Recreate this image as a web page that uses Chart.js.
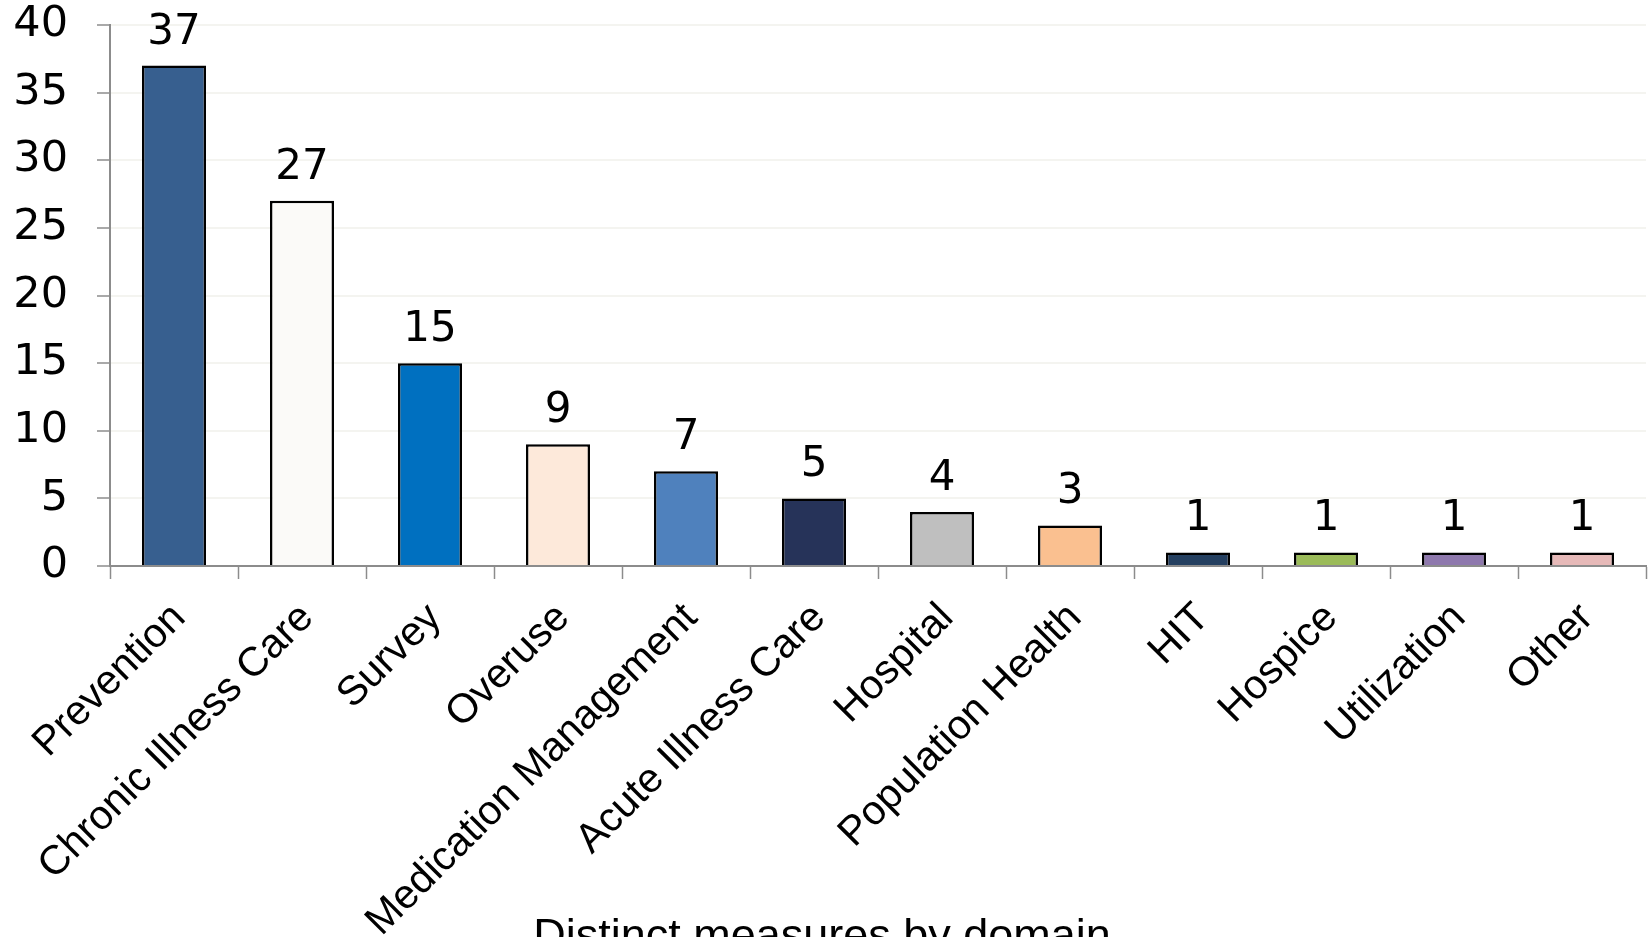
<!DOCTYPE html>
<html>
<head>
<meta charset="utf-8">
<script src="https://cdn.jsdelivr.net/npm/chart.js@4/dist/chart.umd.min.js"></script>
<style>
  html, body { margin: 0; padding: 0; background: #ffffff; overflow: hidden; }
  canvas { display: block; }
</style>
</head>
<body>
<canvas id="c" width="1652" height="963"></canvas>
<script>
const categories = ["Prevention", "Chronic Illness Care", "Survey", "Overuse", "Medication Management", "Acute Illness Care", "Hospital", "Population Health", "HIT", "Hospice", "Utilization", "Other"];
const values = [37, 27, 15, 9, 7, 5, 4, 3, 1, 1, 1, 1];
const barColors = ["#375F8F", "#FBFAF8", "#0070C0", "#FDE9DA", "#4F81BD", "#263359", "#BFBFBF", "#FAC090", "#243F60", "#9BBB59", "#8E78AD", "#E6B9B8"];
const yTickValues = [0, 5, 10, 15, 20, 25, 30, 35, 40];
const xTitle = "Distinct measures by domain";

const dataLabels = {
  id: 'dataLabels',
  afterDatasetsDraw(chart) {
    const ctx = chart.ctx;
    const meta = chart.getDatasetMeta(0);
    ctx.save();
    ctx.fillStyle = '#000000';
    ctx.font = '42px "DejaVu Sans"';
    ctx.textAlign = 'center';
    ctx.textBaseline = 'alphabetic';
    meta.data.forEach((bar, i) => {
      ctx.fillText(String(values[i]), bar.x, bar.y - 22);
    });
    ctx.restore();
  }
};

const bottomTitle = {
  id: 'bottomTitle',
  afterDraw(chart) {
    const ctx = chart.ctx;
    ctx.save();
    ctx.fillStyle = '#000000';
    ctx.font = '45px "Liberation Sans", Arial, sans-serif';
    ctx.textAlign = 'center';
    ctx.textBaseline = 'alphabetic';
    ctx.fillText(xTitle, 822, 950);
    ctx.restore();
  }
};

new Chart(document.getElementById('c'), {
  type: 'bar',
  data: {
    labels: categories,
    datasets: [{
      data: values,
      backgroundColor: barColors,
      borderColor: '#000000',
      borderWidth: 2.5,
      barPercentage: 1.0,
      categoryPercentage: 0.5
    }]
  },
  options: {
    responsive: false,
    animation: false,
    layout: { padding: { top: 25, right: 6, left: 0, bottom: 0 } },
    plugins: {
      legend: { display: false },
      tooltip: { enabled: false },
      title: { display: false }
    },
    scales: {
      x: {
        afterFit(scale) { scale.height = 397; },
        grid: {
          drawOnChartArea: false,
          drawTicks: true,
          tickLength: 13,
          tickColor: '#8C8C8C',
          tickWidth: 1.5
        },
        border: { color: '#8C8C8C', width: 2 },
        ticks: {
          color: '#000000',
          minRotation: 45,
          maxRotation: 45,
          padding: 15,
          labelOffset: 5,
          autoSkip: false,
          font: { family: '"Liberation Sans", Arial, sans-serif', size: 41 }
        }
      },
      y: {
        min: 0,
        max: 40,
        afterFit(scale) { scale.width = 110; scale.paddingTop = 0; scale.paddingBottom = 0; },
        afterBuildTicks(scale) { scale.ticks = yTickValues.map(v => ({ value: v })); },
        grid: {
          color: '#F4F4F0',
          lineWidth: 2,
          drawTicks: true,
          tickLength: 13,
          tickColor: '#8C8C8C',
          tickWidth: 1.5
        },
        border: { color: '#8C8C8C', width: 2 },
        ticks: {
          color: '#000000',
          padding: 29,
          font: { family: '"DejaVu Sans", sans-serif', size: 43, lineHeight: 1.0 }
        }
      }
    }
  },
  plugins: [dataLabels, bottomTitle]
});
</script>
</body>
</html>
